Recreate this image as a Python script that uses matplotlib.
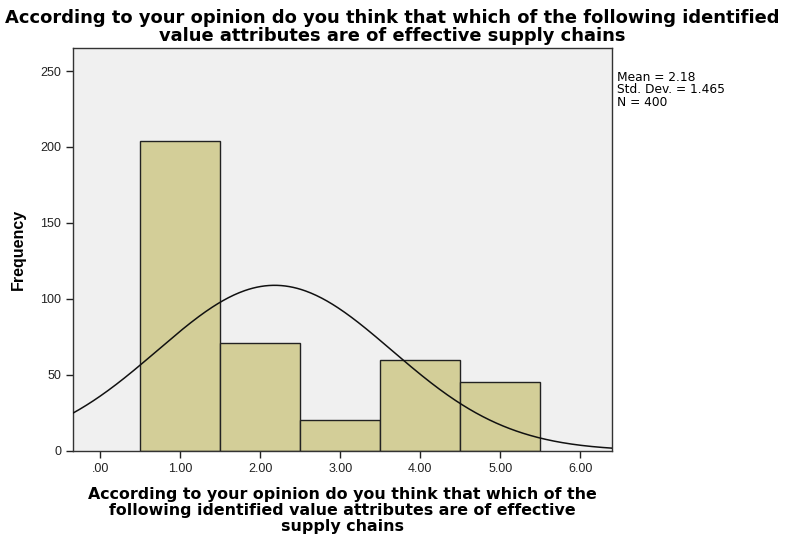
import numpy as np
import matplotlib
matplotlib.use("Agg")
import matplotlib.pyplot as plt

plt.rcParams['font.family'] = ['Liberation Sans', 'DejaVu Sans']

categories = [1, 2, 3, 4, 5]
counts = [204, 71, 20, 60, 45]
mean_val = 2.18
std_val = 1.465
n_val = 400
xticks = [0, 1, 2, 3, 4, 5, 6]
xtick_labels = [".00", "1.00", "2.00", "3.00", "4.00", "5.00", "6.00"]
yticks = [0, 50, 100, 150, 200, 250]

fig = plt.figure(figsize=(7.85, 5.36), dpi=100)
ax = fig.add_axes([0.093, 0.159, 0.687, 0.751])
ax.set_facecolor('#f0f0f0')

ax.bar(categories, counts, width=1.0, color='#d3ce98', edgecolor='#222222', linewidth=1.0, zorder=2)

xs = np.linspace(-0.34, 6.4, 400)
ys = n_val * 1.0 / (std_val * np.sqrt(2 * np.pi)) * np.exp(-0.5 * ((xs - mean_val) / std_val) ** 2)
ax.plot(xs, ys, color='#111111', linewidth=1.1, zorder=3)

ax.set_xlim(-0.34, 6.4)
ax.set_ylim(0, 265)
ax.set_xticks(xticks)
ax.set_xticklabels(xtick_labels)
ax.set_yticks(yticks)
ax.tick_params(axis='both', direction='out', length=5, width=1, labelsize=9, colors='#222222')
for s in ax.spines.values():
    s.set_color('#333333')
    s.set_linewidth(1)

ax.set_ylabel('Frequency', fontsize=11.5, fontweight='bold', labelpad=10)
ax.set_xlabel('According to your opinion do you think that which of the\nfollowing identified value attributes are of effective\nsupply chains',
              fontsize=11.4, fontweight='bold', linespacing=1.1, labelpad=9,
              family='DejaVu Sans')

fig.text(0.5, 0.984, 'According to your opinion do you think that which of the following identified\nvalue attributes are of effective supply chains',
         ha='center', va='top', fontsize=12.85, fontweight='bold', linespacing=1.0,
         family='DejaVu Sans')

fig.text(0.786, 0.868, 'Mean = %.2f\nStd. Dev. = %.3f\nN = %d' % (mean_val, std_val, n_val),
         ha='left', va='top', fontsize=8.8, linespacing=0.95, family='DejaVu Sans')

fig.savefig('out.png', dpi=100)
